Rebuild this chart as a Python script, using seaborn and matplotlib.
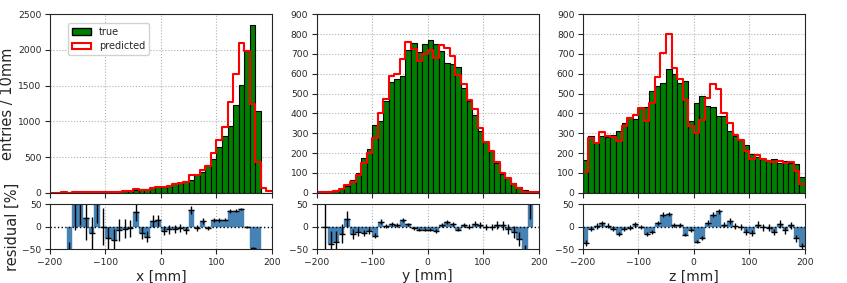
import numpy as np
import pandas as pd
import matplotlib
matplotlib.use('Agg')
import matplotlib.pyplot as plt
import seaborn as sns

# bin edges: 40 bins of 10 mm from -200 to 200
edges = np.arange(-200, 201, 10)
centers = edges[:-1] + 5

# counts per bin (true / predicted)
x_true = [0, 0, 0, 3, 3, 5, 5, 7, 4, 6, 12, 14, 16, 22, 28, 34, 45, 55, 62, 75,
          84, 98, 130, 140, 168, 177, 252, 285, 388, 476,
          645, 794, 934, 1228, 1504, 1990, 2350, 1150, 0, 0]
x_pred = [1, 2, 3, 1, 5, 8, 6, 6, 7, 6, 9, 10, 15, 21, 27, 45, 39, 43, 70, 86,
          77, 93, 124, 136, 155, 244, 245, 320, 377, 550,
          745, 920, 1265, 1660, 2100, 1985, 1245, 425, 60, 18]

y_true = [0, 1, 8, 12, 20, 35, 62, 100, 175, 218, 340, 362, 465, 558, 572, 590,
          720, 755, 708, 750, 768, 748, 715, 655, 650, 632, 530, 465, 393, 312,
          257, 212, 150, 95, 75, 50, 30, 14, 3, 0]
y_pred = [1, 1, 5, 8, 17, 41, 52, 88, 151, 198, 274, 404, 471, 589, 599, 673,
          760, 727, 664, 700, 720, 678, 745, 728, 690, 594, 548, 468, 420, 325,
          257, 212, 156, 98, 72, 44, 22, 6, 6, 2]

z_true = [165, 286, 249, 286, 279, 291, 311, 353, 383, 370, 425, 430, 513, 540,
          555, 622, 599, 552, 565, 363, 454, 488, 437, 430, 387, 387, 313, 286,
          266, 240, 195, 182, 170, 165, 172, 150, 160, 150, 145, 80]
z_pred = [106, 274, 252, 308, 286, 279, 262, 336, 375, 392, 425, 363, 454, 582,
          706, 800, 627, 574, 468, 336, 303, 367, 478, 547, 521, 404, 353, 291,
          266, 212, 168, 190, 168, 161, 153, 160, 148, 155, 108, 45]

panels = [('x', x_true, x_pred, 2500, 500),
          ('y', y_true, y_pred, 900, 100),
          ('z', z_true, z_pred, 900, 100)]

sns.set_style('ticks', {'axes.grid': True, 'grid.linestyle': ':',
                        'grid.color': '#b0b0b0', 'xtick.direction': 'out',
                        'ytick.direction': 'out'})
plt.rcParams.update({
    'font.family': ['DejaVu Sans'],
    'font.size': 7,
    'xtick.labelsize': 6.6,
    'ytick.labelsize': 6.6,
    'xtick.major.size': 3.5,
    'ytick.major.size': 3.5,
    'xtick.major.pad': 2.5,
    'ytick.major.pad': 2.5,
})

fig = plt.figure(figsize=(8.47, 2.83), dpi=100)
lefts = [0.059, 0.3739, 0.688]

for i, (name, t, p, ymax, ystep) in enumerate(panels):
    t = np.array(t, dtype=float)
    p = np.array(p, dtype=float)
    df = pd.DataFrame({'pos': centers, 'true': t, 'pred': p})

    ax = fig.add_axes([lefts[i], 0.3191, 0.2621, 0.6304])
    sns.histplot(data=df, x='pos', weights='true', binwidth=10, binrange=(-200, 200),
                 color='green', edgecolor='black', linewidth=0.8, alpha=1, ax=ax)
    sns.histplot(data=df, x='pos', weights='pred', binwidth=10, binrange=(-200, 200),
                 element='step', fill=False, color='red', linewidth=1.5, ax=ax)
    ax.set_xlim(-200, 200)
    ax.set_ylim(0, ymax)
    ax.set_yticks(np.arange(0, ymax + 1, ystep))
    ax.set_xticks([-200, -100, 0, 100, 200])
    ax.set_xticklabels([])
    ax.set_xlabel('')
    ax.set_ylabel('entries / 10mm' if i == 0 else '', fontsize=10.5, labelpad=2)
    if i == 0:
        h_true = plt.Rectangle((0, 0), 1, 1, fc='green', ec='black')
        h_pred = plt.Rectangle((0, 0), 1, 1, fc='white', ec='red', lw=1.5)
        ax.legend([h_true, h_pred], ['true', 'predicted'], loc='upper left',
                  bbox_to_anchor=(0.06, 0.98), fontsize=7, framealpha=0.9)

    # residual panel
    with np.errstate(divide='ignore', invalid='ignore'):
        res = np.where(t > 0, 100 * (p - t) / t, np.nan)
        err = np.where(t > 0, 100 * np.sqrt(p) / t, np.nan)
    rx = fig.add_axes([lefts[i], 0.1191, 0.2621, 0.159])
    rx.bar(centers, res, width=10, color='steelblue', edgecolor='steelblue', linewidth=0.3)
    rx.errorbar(centers, res, yerr=err, fmt='_', color='black', ms=4, lw=1)
    rx.axhline(0, color='black', ls=':', lw=1)
    rx.grid(axis='y', visible=False)
    rx.set_xlim(-200, 200)
    rx.set_ylim(-50, 50)
    rx.set_yticks([-50, 0, 50])
    rx.set_xticks([-200, -100, 0, 100, 200])
    rx.set_xlabel(f'{name} [mm]', fontsize=10, labelpad=2)
    if i == 0:
        rx.set_ylabel('residual [%]', fontsize=10.5, labelpad=2)

fig.savefig('out.png', dpi=100)
